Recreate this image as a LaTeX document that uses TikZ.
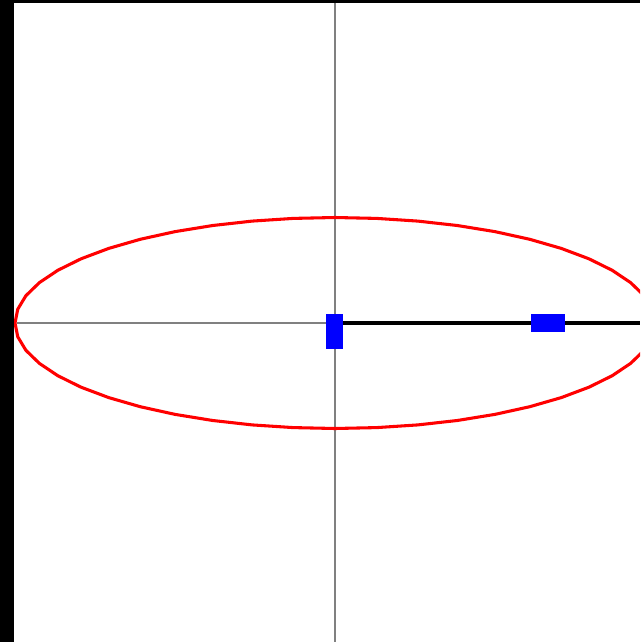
\documentclass[tikz,border=0pt]{standalone}
\begin{document}
\begin{tikzpicture}[x=0.75pt,y=-0.75pt,
  axis/.style={draw=black!50,line width=1.1pt},
  orbit/.style={draw=red,line width=2.3pt,line join=round},
  marker/.style={fill=blue,draw=none},
  rod/.style={draw=black,line width=3pt}]
\useasboundingbox (0,0) rectangle (640,642);
\fill[black] (0,0) rectangle (640,642);
\fill[white] (14,3) rectangle (640,642);
\begin{scope}
\clip (14,3) rectangle (640,642);
\coordinate (c) at (335,323);
\draw[axis] (335,3) -- (335,642);
\draw[axis] (17,323) -- (c);
\draw[orbit] plot[samples=49,domain=0:360] ({335+320*cos(\x)},{323-105.5*sin(\x)}) -- cycle;
\coordinate (r) at (640,323);
\draw[rod] (c) -- (r);
\fill[marker] (326,314) rectangle (343,349);
\fill[marker] (531,314) rectangle (565,332);
\end{scope}
\end{tikzpicture}
\end{document}
